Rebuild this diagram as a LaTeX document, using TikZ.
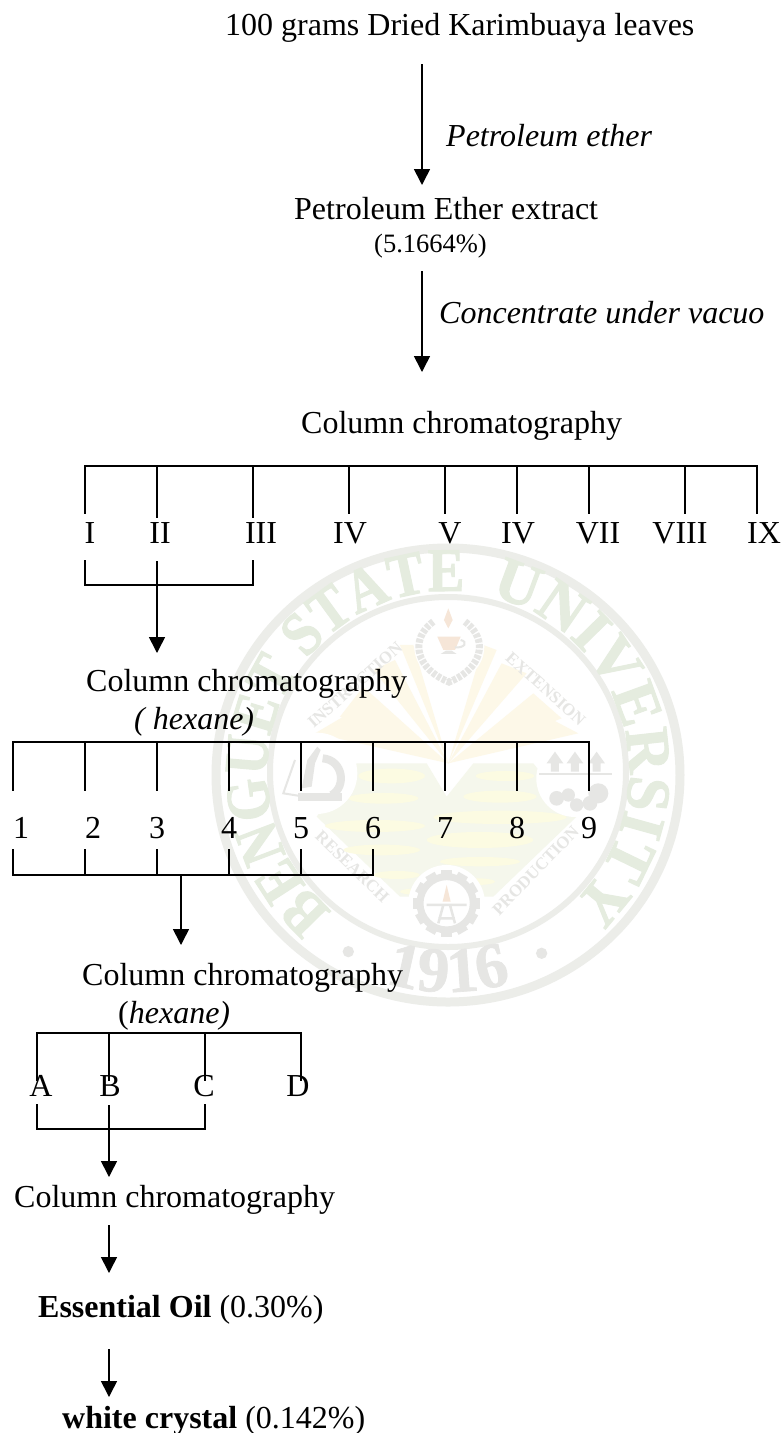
\documentclass[tikz,border=0pt]{standalone}
\usepackage{fontspec}
\setmainfont{Liberation Serif}
\newfontfamily\sealfont[FakeStretch=0.88,BoldFeatures={FakeBold=1.5}]{Liberation Serif}
\newfontfamily\sealwide[FakeStretch=1.0,BoldFeatures={FakeBold=1.5}]{Liberation Serif}
\newfontfamily\sealnum[BoldFeatures={FakeBold=1}]{Liberation Serif}
\usetikzlibrary{arrows.meta,decorations.text}
\definecolor{sealgray}{HTML}{ECEDE9}
\definecolor{sealgreen}{HTML}{E5ECDF}
\definecolor{sealyellow}{HTML}{FCFBE2}
\definecolor{sealpale}{HTML}{F5F7EC}
\definecolor{sealorange}{HTML}{FDF8E8}
\definecolor{sealicon}{HTML}{E6E6E4}
\definecolor{sealtext}{HTML}{E6E6E4}
\definecolor{sealflame}{HTML}{F6E6D8}
\tikzset{
  txt/.style={inner sep=0pt,anchor=base west,font=\fontsize{32}{36}\selectfont},
  num/.style={inner sep=0pt,anchor=base,font=\fontsize{32}{36}\selectfont},
  ital/.style={txt,font=\fontsize{32}{36}\selectfont\itshape},
  small/.style={inner sep=0pt,anchor=base west,font=\fontsize{26.5}{30}\selectfont},
  line/.style={line width=1.7pt,black,line cap=rect},
  arrow/.style={line width=1.6pt,black,-{Triangle[length=16pt,width=16pt]}},
  sealword/.style={inner sep=0pt,text=sealtext,font=\fontsize{17}{18}\selectfont\bfseries},
  leaf/.style={sealicon,line width=7pt,dash pattern=on 4pt off 1.5pt}
}
\begin{document}
\begin{tikzpicture}[x=1pt,y=1pt]
\useasboundingbox (0,0) rectangle (784,-1433);
\fill[white] (0,0) rectangle (784,-1433);
% --- watermark seal: rings and lettering ---
\draw[sealgray,line width=9pt] (448,-775) ellipse [x radius=232,y radius=227];
\draw[sealgray,line width=6pt] (448,-772) ellipse [x radius=178,y radius=175];
\begin{scope}[shift={(448,-772)}]
  \path[decorate,decoration={text along path,text align=center,
     text={|\fontsize{62}{62}\sealfont\bfseries\color{sealgreen}|BENGUET STATE}}]
     (231:181) arc (231:84:181);
  \path[decorate,decoration={text along path,text align=center,
     text={|\fontsize{62}{62}\sealwide\bfseries\color{sealgreen}|UNIVERSITY}}]
     (78:181) arc (78:-48:181);
  \path[decorate,decoration={text along path,text align=center,
     text={|\fontsize{64}{64}\sealnum\bfseries\color{sealtext}|1916}}]
     (249:220) arc (249:291:220);
\end{scope}
% --- watermark seal: emblems, written in 3x crop coordinates ---
\begin{scope}[shift={(200,-530)},x=0.3333pt,y=-0.3333pt]
  \fill[sealtext] (445,1265) circle (17) (1025,1270) circle (17);
  % rays
  \foreach \ax/\ay/\bx/\by in {600/345/640/345,520/420/585/390,420/560/490/470,345/610/430/560,
                              890/360/850/345,980/430/905/400,1085/565/1000/490,1135/610/1040/560}
     \fill[sealorange] (745,700) -- (\ax,\ay) -- (\bx,\by) -- cycle;
  % field
  \fill[sealpale] (470,700) -- (350,860) -- (600,1100) -- (880,1100) -- (1130,860)
       -- (1000,700) -- (820,700) -- (740,800) -- (680,700) -- cycle;
  \foreach \cx/\cy/\rx/\ry in {575/738/100/22,550/805/105/16,525/888/150/18,545/960/115/16,590/1035/70/12,
                              915/738/88/15,900/800/110/18,900/862/200/20,840/930/160/24,840/995/120/14,830/1055/55/10,645/1085/45/9}
     \fill[sealyellow] (\cx,\cy) ellipse [x radius=\rx,y radius=\ry];
  % laurel and lamp
  \fill[white] (748,350) circle (105);
  \draw[leaf] (700,275) .. controls (625,330) and (650,420) .. (752,458);
  \draw[leaf] (795,275) .. controls (870,330) and (845,420) .. (742,458);
  \fill[sealflame] (745,235) -- (758,270) -- (745,295) -- (732,270) -- cycle;
  \fill[sealflame] (712,320) -- (782,320) -- (765,360) -- (730,360) -- cycle;
  \draw[sealicon,line width=2pt] (782,330) .. controls (805,335) and (795,355) .. (765,352);
  \fill[sealicon] (722,372) -- (770,372) -- (755,362) -- (738,362) -- cycle;
  % microscope
  \fill[white] (350,730) circle (122);
  \draw[sealicon,line width=2pt] (285,690) -- (250,790) -- (300,798);
  \fill[sealicon] (322,690) -- (352,650) -- (362,660) -- (345,700) -- (335,770) -- (305,775) -- cycle;
  \draw[sealicon,line width=8pt] (368,685) .. controls (430,690) and (440,770) .. (395,795);
  \fill[sealicon] (295,790) rectangle (425,812);
  % village
  \fill[white] (1125,745) circle (116);
  \foreach \x in {1065,1125,1190}
     \fill[sealicon] (\x-12,725) -- (\x-12,700) -- (\x-25,700) -- (\x,665) -- (\x+25,700) -- (\x+12,700) -- (\x+12,725) -- cycle;
  \draw[sealicon,line width=1.5pt] (1018,732) -- (1235,732);
  \foreach \x/\y/\r in {1070/805/22,1105/795/20,1130/825/20,1195/790/30,1170/820/22}
     \fill[sealicon] (\x,\y) circle (\r);
  % gear
  \fill[white] (740,1120) circle (115);
  \draw[sealicon,line width=7pt] (740,1120) circle (80);
  \foreach \a in {0,30,...,330}
     \fill[sealicon,rotate around={\a:(740,1120)}] (724,1020) rectangle (756,1045);
  \fill[sealflame] (740,1065) -- (752,1115) -- (728,1115) -- cycle;
  \draw[sealicon,line width=2.5pt] (680,1125) -- (800,1125) (715,1180) -- (730,1125) (765,1180) -- (750,1125) (715,1165) -- (765,1165);
  % small words
  \node[sealword,rotate=41.6] (sw1) at (465,465) {INSTRUCTION};
  \node[sealword,rotate=-42] (sw2) at (1037,477) {EXTENSION};
  \node[sealword,rotate=-44] (sw3) at (457,1010) {RESEARCH};
  \node[sealword,rotate=46] (sw4) at (1007,1022) {PRODUCTION};
\end{scope}

% --- texts ---
\node[txt]  (top)  at (225,-35)  {100 grams Dried Karimbuaya leaves};
\node[ital] (pe)   at (446,-146) {Petroleum ether};
\node[txt]  (pee)  at (294,-219) {Petroleum Ether extract};
\node[small] (pct) at (374,-252) {(5.1664\%)};
\node[ital] (conc) at (439,-323) {Concentrate under vacuo};
\node[txt]  (cc1)  at (301,-433) {Column chromatography};
\node[txt]  (cc2)  at (86,-691)  {Column chromatography};
\node[ital] (hex1) at (134,-729) {( hexane)};
\node[txt]  (cc3)  at (82,-985)  {Column chromatography};
\node[txt]  (hex2) at (118,-1023) {(\textit{hexane)}};
\node[txt]  (cc4)  at (14,-1207) {Column chromatography};
\node[txt]  (oil)  at (38,-1317) {\textbf{Essential Oil} (0.30\%)};
\node[txt]  (cry)  at (62,-1428) {\textbf{white crystal} (0.142\%)};

% --- first fan ---
\foreach \n/\x/\l/\e/\lx in {a/85/I/513/90,b/157/II/517/160,c/253/III/517/261,d/349/IV/513/350,
    f/445/V/513/450,g/517/IV/513/518,h/589/VII/513/598,i/685/VIII/513/680,j/757/IX/513/764}{
  \coordinate (\n t) at (\x,-466);
  \coordinate (\n e) at (\x,-\e);
  \node[num] (\n L) at (\lx,-543) {\l};
}
\draw[line] (at) -- (jt);
\foreach \n in {a,b,c,d,f,g,h,i,j} \draw[line] (\n t) -- (\n e);
\coordinate (al) at (85,-561); \coordinate (bl) at (157,-561); \coordinate (cl) at (253,-561);
\coordinate (aj) at (85,-585); \coordinate (cj) at (253,-585);
\draw[line] (al) -- (aj) -- (cj) -- (cl);
\coordinate (cc2in) at (157,-653);
\draw[arrow] (bl) -- (cc2in);

% --- second fan ---
\foreach \n/\x/\l/\lx in {1/13/1/21,2/85/2/93,3/157/3/157,4/229/4/229,5/301/5/301,6/373/6/373,7/445/7/445,8/517/8/517,9/589/9/589}{
  \coordinate (s\n t) at (\x,-742);
  \coordinate (s\n e) at (\x,-790);
  \coordinate (s\n u) at (\x,-850);
  \coordinate (s\n v) at (\x,-875);
  \node[num] (s\n L) at (\lx,-838) {\l};
}
\draw[line] (s1t) -- (s9t);
\foreach \n in {1,...,9} \draw[line] (s\n t) -- (s\n e);
\draw[line] (s1u) -- (s1v) -- (s6v) -- (s6u);
\foreach \n in {2,3,4,5} \draw[line] (s\n u) -- (s\n v);
\coordinate (arr2a) at (181,-875); \coordinate (arr2b) at (181,-945);
\draw[arrow] (arr2a) -- (arr2b);

% --- third fan ---
\foreach \n/\x/\l/\lx in {A/37/A/41,B/109/B/110,C/205/C/204,D/301/D/298}{
  \coordinate (\n t) at (\x,-1033);
  \coordinate (\n e) at (\x,-1080);
  \node[num] (\n L) at (\lx,-1096) {\l};
}
\draw[line] (At) -- (Dt);
\foreach \n in {A,B,C,D} \draw[line] (\n t) -- (\n e);
\coordinate (Au) at (37,-1105); \coordinate (Bu) at (109,-1105); \coordinate (Cu) at (205,-1105);
\coordinate (Av) at (37,-1129); \coordinate (Cv) at (205,-1129);
\draw[line] (Au) -- (Av) -- (Cv) -- (Cu);
\coordinate (cc4in) at (109,-1177);
\draw[arrow] (Bu) -- (cc4in);

% --- plain arrows ---
\coordinate (a1s) at (422,-64);   \coordinate (a1e) at (422,-185);
\coordinate (a2s) at (422,-271);  \coordinate (a2e) at (422,-372);
\coordinate (a3s) at (109,-1225); \coordinate (a3e) at (109,-1273);
\coordinate (a4s) at (109,-1349); \coordinate (a4e) at (109,-1397);
\draw[arrow] (a1s) -- (a1e);
\draw[arrow] (a2s) -- (a2e);
\draw[arrow] (a3s) -- (a3e);
\draw[arrow] (a4s) -- (a4e);
\end{tikzpicture}
\end{document}
